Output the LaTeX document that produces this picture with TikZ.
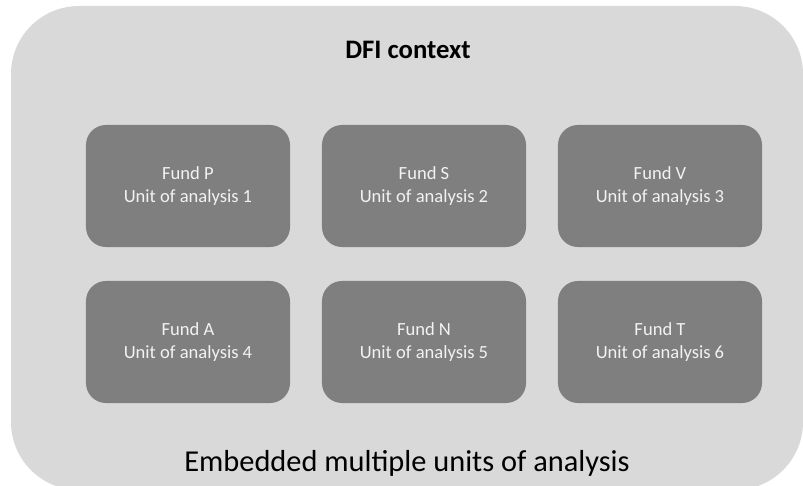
\documentclass[tikz,border=0pt]{standalone}
\usepackage{fontspec}
\setmainfont{Carlito}
\usepackage{tikz}

\definecolor{ctxgray}{HTML}{D9D9D9}
\definecolor{fundgray}{HTML}{7F7F7F}
\definecolor{fundtext}{HTML}{F2F2F2}

\tikzset{
  fundbox/.style={shape=rectangle, rounded corners=0.5cm, fill=fundgray,
    minimum width=5.1cm, minimum height=3.05cm, align=center,
    text=fundtext, font=\fontsize{13.2}{15.8}\selectfont},
}

\begin{document}
\begin{tikzpicture}[x=0.025cm, y=-0.025cm]
	    \useasboundingbox (0,0) rectangle (803,486);
	    \begin{scope}
	    \clip (0,0) rectangle (803,486);
	    \fill[ctxgray, rounded corners=1.7cm] (11,6) rectangle (803,490);
	    \end{scope}

	    \node[font=\bfseries\fontsize{19}{22}\selectfont] (ctx) at (408,50) {DFI context};

	    \node[fundbox] (P) at (188,186) {Fund P\\Unit of analysis 1};
	    \node[fundbox] (S) at (424,186) {Fund S\\Unit of analysis 2};
	    \node[fundbox] (V) at (660,186) {Fund V\\Unit of analysis 3};
	    \node[fundbox] (A) at (188,342) {Fund A\\Unit of analysis 4};
	    \node[fundbox] (N) at (424,342) {Fund N\\Unit of analysis 5};
	    \node[fundbox] (T) at (660,342) {Fund T\\Unit of analysis 6};

	    \node[font=\fontsize{21.6}{24}\selectfont] (units) at (407,463) {Embedded multiple units of analysis};
	\end{tikzpicture}
\end{document}
